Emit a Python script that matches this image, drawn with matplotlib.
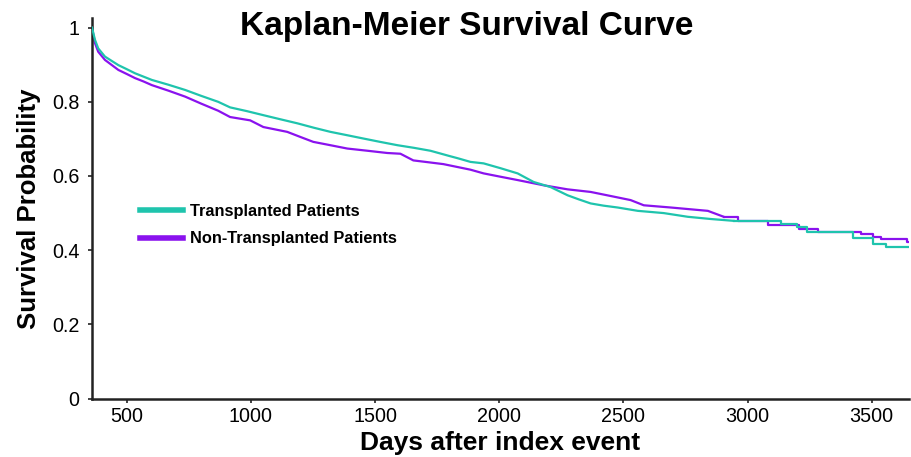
"""Kaplan-Meier survival curve: transplanted vs non-transplanted patients."""
import matplotlib

matplotlib.use("Agg")

import matplotlib.pyplot as plt  # noqa: E402
from matplotlib.ticker import FuncFormatter  # noqa: E402

TEAL = "#1fc4ad"
PURPLE = "#8a12ee"

# survival estimates (day, probability)
TX_DAYS = [360, 372, 385, 412, 440, 466, 500, 533, 567, 601, 668, 735, 800, 868,
           916, 983, 1050, 1118, 1187, 1254, 1320, 1387, 1453, 1520, 1590, 1656,
           1723, 1804, 1832, 1884, 1937, 2005, 2074, 2138, 2207, 2275, 2320, 2368,
           2420, 2477, 2558, 2662, 2759, 2852, 2945, 3134, 3200, 3240, 3425, 3505,
           3558, 3650]
TX_SURV = [1.0, 0.967, 0.944, 0.922, 0.910, 0.899, 0.888, 0.877, 0.868, 0.859,
           0.846, 0.832, 0.816, 0.800, 0.785, 0.775, 0.764, 0.753, 0.742, 0.730,
           0.719, 0.710, 0.701, 0.692, 0.683, 0.676, 0.668, 0.653, 0.648, 0.638,
           0.634, 0.621, 0.607, 0.584, 0.570, 0.548, 0.537, 0.526, 0.520, 0.515,
           0.506, 0.500, 0.490, 0.484, 0.479, 0.470, 0.462, 0.449, 0.433, 0.417,
           0.409, 0.409]

NTX_DAYS = [360, 372, 385, 412, 440, 466, 500, 533, 567, 601, 668, 735, 800, 868,
            916, 997, 1050, 1146, 1200, 1251, 1320, 1388, 1470, 1549, 1602, 1654,
            1715, 1775, 1884, 1937, 2005, 2074, 2178, 2275, 2368, 2449, 2529, 2582,
            2691, 2840, 2904, 2961, 3082, 3207, 3283, 3457, 3505, 3538, 3640, 3650]
NTX_SURV = [1.0, 0.958, 0.935, 0.913, 0.899, 0.886, 0.875, 0.864, 0.855, 0.845,
            0.830, 0.814, 0.795, 0.776, 0.759, 0.750, 0.732, 0.719, 0.705, 0.692,
            0.683, 0.674, 0.668, 0.662, 0.660, 0.642, 0.637, 0.632, 0.617, 0.607,
            0.598, 0.589, 0.575, 0.564, 0.557, 0.546, 0.535, 0.521, 0.515, 0.506,
            0.490, 0.479, 0.468, 0.457, 0.449, 0.443, 0.436, 0.430, 0.423, 0.423]

Y_TICKS = [0, 0.2, 0.4, 0.6, 0.8, 1.0]
X_TICKS = [500, 1000, 1500, 2000, 2500, 3000, 3500]
# before this day the events are so dense the curve reads as a smooth line
DENSE_UNTIL = 2950


def draw_km(ax, days, surv, color, label, zorder):
    n = sum(d <= DENSE_UNTIL for d in days)
    ax.plot(days[:n], surv[:n], color=color, lw=1.6, label=label,
            zorder=zorder, solid_joinstyle="round")
    ax.step(days[n - 1:], surv[n - 1:], where="post", color=color, lw=1.6,
            zorder=zorder)


def main() -> None:
    plt.rcParams["font.family"] = ["Liberation Sans", "DejaVu Sans"]
    fig = plt.figure(figsize=(9.12, 4.57), dpi=100)
    ax = fig.add_axes([0.1009, 0.128, 0.8958, 0.8326])

    draw_km(ax, TX_DAYS, TX_SURV, TEAL, "Transplanted Patients", 3)
    draw_km(ax, NTX_DAYS, NTX_SURV, PURPLE, "Non-Transplanted Patients", 2)

    ax.set_xlim(360, 3650)
    ax.set_ylim(0, 1.026)
    ax.set_xticks(X_TICKS)
    ax.set_yticks(Y_TICKS)
    ax.yaxis.set_major_formatter(FuncFormatter(lambda v, _: f"{v:g}"))
    ax.tick_params(direction="out", length=3, width=1.2, labelsize=14.2,
                   colors="#222222", labelcolor="black")
    ax.tick_params(axis="y", pad=6)
    ax.tick_params(axis="x", pad=3)

    for side in ("top", "right"):
        ax.spines[side].set_visible(False)
    for side in ("left", "bottom"):
        ax.spines[side].set_linewidth(1.8)
        ax.spines[side].set_color("#222222")

    ax.set_xlabel("Days after index event", fontsize=19, fontweight="bold",
                  labelpad=4)
    ax.set_ylabel("Survival Probability", fontsize=18.5, fontweight="bold",
                  labelpad=8)
    fig.text(0.512, 0.943, "Kaplan-Meier Survival Curve", ha="center",
             va="center", fontsize=24, fontweight="bold")

    leg = ax.legend(loc="upper left", bbox_to_anchor=(0.0588, 0.511),
                    frameon=False, borderpad=0, borderaxespad=0,
                    handlelength=2.6, handletextpad=0.43, labelspacing=0.75,
                    prop={"size": 11.8, "weight": "bold"})
    for line in leg.get_lines():
        line.set_linewidth(4.0)

    fig.savefig("out.png", dpi=100)
    plt.close(fig)


if __name__ == "__main__":
    main()
